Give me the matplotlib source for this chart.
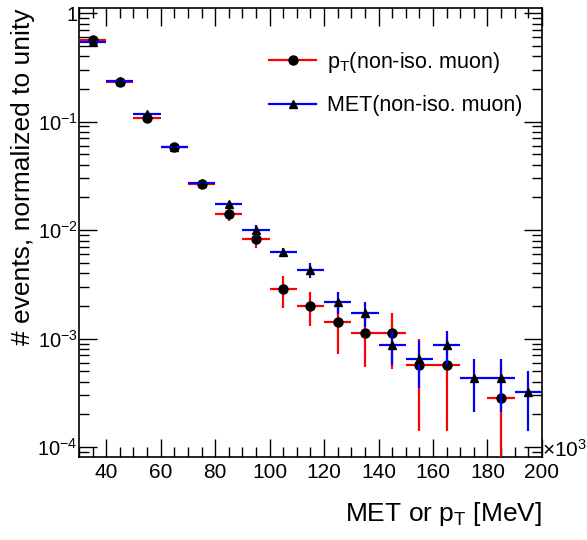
import matplotlib
matplotlib.use("Agg")
import matplotlib.pyplot as plt
from matplotlib.lines import Line2D
from matplotlib.ticker import MultipleLocator, LogLocator, FuncFormatter
import numpy as np

plt.rcParams['font.family'] = ['Liberation Sans', 'DejaVu Sans']
plt.rcParams['mathtext.fontset'] = 'custom'
plt.rcParams['mathtext.rm'] = 'Liberation Sans'
plt.rcParams['mathtext.it'] = 'Liberation Sans'

# bin centres in units of 10^3 MeV (bin width 10)
bins_pt = [35, 45, 55, 65, 75, 85, 95, 105, 115, 125, 135, 145, 155, 165, 185]
pt_vals = [0.57, 0.229, 0.108, 0.058, 0.0265, 0.0140, 0.0083, 0.00286, 0.0020,
           0.00142, 0.00112, 0.00112, 0.00057, 0.00057, 0.000283]
pt_err = [0.01, 0.004, 0.003, 0.002, 0.0012, 0.0019, 0.0015, 0.00095, 0.0007,
          0.0007, 0.00057, 0.0006, 0.00043, 0.00043, 0.000285]

bins_met = [35, 45, 55, 65, 75, 85, 95, 105, 115, 125, 135, 145, 155, 165, 175, 185, 195]
met_vals = [0.54, 0.236, 0.117, 0.058, 0.0272, 0.0174, 0.0100, 0.00627, 0.00428,
            0.00217, 0.00172, 0.00087, 0.00065, 0.00087, 0.000432, 0.000432, 0.00032]
met_err = [0.01, 0.004, 0.003, 0.002, 0.0012, 0.0013, 0.0011, 0.0006, 0.0007,
           0.0005, 0.00043, 0.0003, 0.0003, 0.0003, 0.00022, 0.00022, 0.00018]

fig = plt.figure(figsize=(5.87, 5.40), dpi=100)
ax = fig.add_axes((0.1346, 0.1537, 0.7885, 0.8313))

ax.errorbar(bins_pt, pt_vals, xerr=5, yerr=pt_err, fmt='o', color='black',
            markersize=6.5, ecolor='red', elinewidth=1.6, capsize=0, zorder=3)
ax.errorbar(bins_met, met_vals, xerr=5, yerr=met_err, fmt='^', color='black',
            markersize=6, ecolor='blue', elinewidth=1.6, capsize=0, zorder=4)

ax.set_yscale('log', nonpositive='clip')
ax.set_xlim(30, 200)
ax.set_ylim(8.1e-5, 1.11)

ax.xaxis.set_major_locator(MultipleLocator(20))
ax.xaxis.set_minor_locator(MultipleLocator(5))
ax.yaxis.set_major_locator(LogLocator(base=10, numticks=10))
ax.yaxis.set_minor_locator(LogLocator(base=10, subs=np.arange(2, 10), numticks=20))


def yfmt(v, pos):
    e = int(round(np.log10(v)))
    if e == 0:
        return '1'
    return r'$10^{%d}$' % e


ax.yaxis.set_major_formatter(FuncFormatter(yfmt))
ax.tick_params(which='both', direction='in', top=True, right=True, width=1)
ax.tick_params(which='major', length=13)
ax.tick_params(which='minor', length=7)
ax.tick_params(axis='x', which='major', labelsize=15, pad=4)
ax.tick_params(axis='y', which='major', labelsize=14.5, pad=1)
ax.tick_params(axis='y', which='minor', labelleft=False)
for s in ax.spines.values():
    s.set_linewidth(1.2)

ax.set_ylabel('# events, normalized to unity', fontsize=19, loc='top')
ax.yaxis.set_label_coords(-0.095, 1.0)
ax.set_xlabel(r'MET or p$_{\mathrm{T}}$ [MeV]', fontsize=19, loc='right')
ax.xaxis.set_label_coords(1.0, -0.095)
ax.text(1.0, 0.016, r'$\times10^{3}$', transform=ax.transAxes, fontsize=15,
        ha='left', va='center')

handles = [Line2D([], [], color='red', lw=1.6, marker='o', markerfacecolor='black',
                  markeredgecolor='black', markersize=6.5),
           Line2D([], [], color='blue', lw=1.6, marker='^', markerfacecolor='black',
                  markeredgecolor='black', markersize=6)]
labels = [r'p$_{\mathrm{T}}$(non-iso. muon)', 'MET(non-iso. muon)']
ax.legend(handles, labels, loc='upper right', bbox_to_anchor=(1.0, 0.95), frameon=False,
          fontsize=15.5, handlelength=2.2, labelspacing=0.95, handletextpad=0.5)

plt.savefig('out.png', dpi=100)
